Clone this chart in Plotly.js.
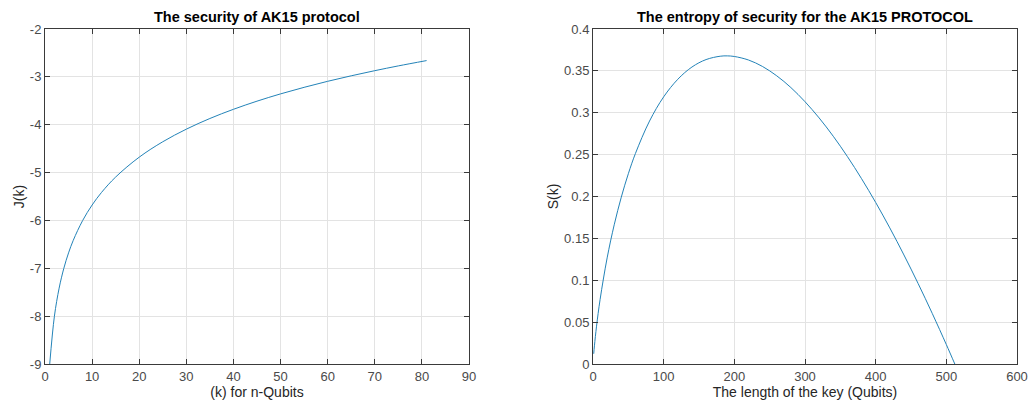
<!DOCTYPE html>
<html>
<head>
<meta charset="utf-8">
<script src="https://cdn.plot.ly/plotly-3.0.1.min.js"></script>
<style>html,body{margin:0;padding:0;background:#fff;}#plot{width:1029px;height:406px;}</style>
</head>
<body>
<div id="plot"></div>
<script>
// Left chart: security J(k) vs k
const kLeft = [1, 2, 3, 4, 5, 6, 8, 10, 12, 15, 20, 25, 30, 35, 40, 45, 50, 55, 60, 65, 70, 75, 81];
const jValues = [-9.0, -8.0, -7.415, -7.0, -6.678, -6.415, -6.0, -5.678, -5.415, -5.093, -4.678, -4.356, -4.093, -3.870, -3.678, -3.508, -3.356, -3.219, -3.093, -2.978, -2.871, -2.771, -2.660];

// Right chart: entropy S(k) vs key length
const kRight = [1, 2, 5, 10, 20, 30, 40, 50, 60, 80, 100, 120, 140, 160, 180, 190, 200, 220, 240, 260, 280, 300, 320, 340, 360, 380, 400, 420, 440, 460, 480, 500, 512];
const sValues = [0.0122, 0.0217, 0.0452, 0.0769, 0.1267, 0.1662, 0.1992, 0.2272, 0.2513, 0.2901, 0.3190, 0.3400, 0.3546, 0.3635, 0.3675, 0.3679, 0.3672, 0.3630, 0.3552, 0.3441, 0.3301, 0.3132, 0.2938, 0.2719, 0.2477, 0.2213, 0.1929, 0.1625, 0.1302, 0.0962, 0.0605, 0.0232, 0.0];

const leftXTicks = [0, 10, 20, 30, 40, 50, 60, 70, 80, 90];
const leftYTicks = [-9, -8, -7, -6, -5, -4, -3, -2];
const rightXTicks = [0, 100, 200, 300, 400, 500, 600];
const rightYTicks = [0, 0.05, 0.1, 0.15, 0.2, 0.25, 0.3, 0.35, 0.4];

const lineColor = '#2383b8';
const fontFam = 'Liberation Sans, Arial, sans-serif';

const axisCommon = {
  showline: true, mirror: 'ticks', linecolor: '#3a3a3a', linewidth: 1,
  ticks: 'inside', ticklen: 5, tickcolor: '#3a3a3a',
  showgrid: true, gridcolor: '#e3e3e3', gridwidth: 1,
  zeroline: false, tickfont: {family: fontFam, size: 13, color: '#4a4a4a'},
  automargin: false
};

const traces = [
  {x: kLeft, y: jValues, type: 'scatter', mode: 'lines', line: {color: lineColor, width: 1, shape: 'spline'}, xaxis: 'x', yaxis: 'y', hoverinfo: 'none'},
  {x: kRight, y: sValues, type: 'scatter', mode: 'lines', line: {color: lineColor, width: 1, shape: 'spline'}, xaxis: 'x2', yaxis: 'y2', hoverinfo: 'none'}
];

const layout = {
  width: 1029, height: 406,
  margin: {l: 45, r: 12, t: 29, b: 42},
  paper_bgcolor: '#fff', plot_bgcolor: '#fff',
  showlegend: false,
  font: {family: fontFam, size: 13, color: '#262626'},
  xaxis: Object.assign({}, axisCommon, {domain: [0, 0.4362], range: [0, 90], tickvals: leftXTicks, ticktext: leftXTicks.map(String), anchor: 'y',
    title: {text: '(k) for n-Qubits', standoff: 3, font: {family: fontFam, size: 14, color: '#262626'}}}),
  yaxis: Object.assign({}, axisCommon, {domain: [0, 1], range: [-9, -2], tickvals: leftYTicks, ticktext: leftYTicks.map(String), anchor: 'x',
    title: {text: 'J(k)', standoff: 1, font: {family: fontFam, size: 14, color: '#262626'}}}),
  xaxis2: Object.assign({}, axisCommon, {domain: [0.5638, 1], range: [0, 600], tickvals: rightXTicks, ticktext: rightXTicks.map(String), anchor: 'y2',
    title: {text: 'The length of the key (Qubits)', standoff: 3, font: {family: fontFam, size: 14, color: '#262626'}}}),
  yaxis2: Object.assign({}, axisCommon, {domain: [0, 1], range: [0, 0.4], tickvals: rightYTicks, ticktext: rightYTicks.map(String), anchor: 'x2',
    title: {text: 'S(k)', standoff: 2, font: {family: fontFam, size: 14, color: '#262626'}}}),
  annotations: [
    {text: '<b>The security of AK15 protocol</b>', xref: 'x domain', yref: 'paper', x: 0.5, y: 1, yshift: 2, xanchor: 'center', yanchor: 'bottom', showarrow: false, font: {family: fontFam, size: 14.5, color: '#000'}},
    {text: '<b>The entropy of security for the AK15 PROTOCOL</b>', xref: 'x2 domain', yref: 'paper', x: 0.5, y: 1, yshift: 2, xanchor: 'center', yanchor: 'bottom', showarrow: false, font: {family: fontFam, size: 14.5, color: '#000'}}
  ]
};

Plotly.newPlot('plot', traces, layout, {staticPlot: true, displayModeBar: false});
</script>
</body>
</html>
